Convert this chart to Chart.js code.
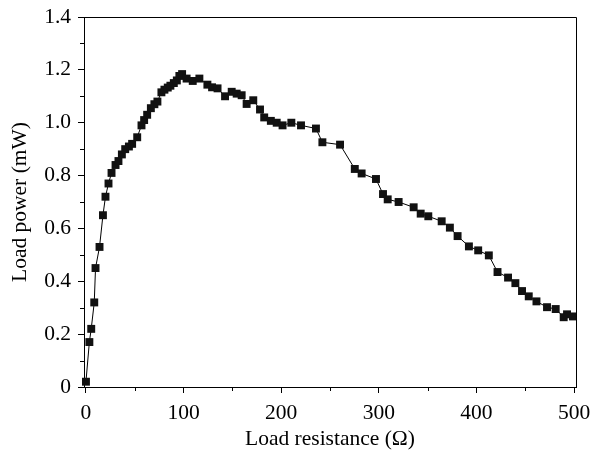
<!DOCTYPE html>
<html>
<head>
<meta charset="utf-8">
<script src="https://cdn.jsdelivr.net/npm/chart.js@4"></script>
<style>
  body { margin: 0; background: #fff; }
  #wrap { width: 593px; height: 460px; }
</style>
</head>
<body>
<div id="wrap"><canvas id="chart" width="593" height="460"></canvas></div>
<script>
const resistance = [0, 3.5, 5.4, 8.5, 9.8, 13.9, 17.4, 20.0, 23.1, 26.2, 30.3, 33.3, 36.8, 40.2, 44.0, 47.3,
  52.5, 56.9, 59.6, 62.7, 66.5, 70.1, 73.2, 77.3, 80.4, 83.8, 86.5, 90.0, 93.1, 95.7, 98.5, 103.1,
  109.4, 116.2, 124.4, 129.2, 134.8, 142.5, 149.3, 154.4, 159.5, 164.6, 171.4, 178.3, 182.6, 189.4,
  195.4, 201.4, 210.4, 220.3, 235.6, 242.2, 260.3, 275.4, 282.4, 297.1, 304.3, 309.1, 320.3, 335.7,
  342.9, 350.7, 364.4, 372.8, 380.7, 392.3, 401.8, 412.7, 421.6, 432.4, 439.9, 446.7, 453.6, 461.5,
  472.3, 481.2, 489.4, 492.8, 498.9];
const power = [0.02, 0.17, 0.22, 0.32, 0.45, 0.53, 0.65, 0.72, 0.77, 0.81, 0.84, 0.855, 0.88, 0.90, 0.91, 0.92,
  0.945, 0.99, 1.01, 1.03, 1.055, 1.07, 1.08, 1.115, 1.125, 1.133, 1.14, 1.15, 1.16, 1.177, 1.184, 1.167,
  1.158, 1.167, 1.144, 1.134, 1.13, 1.10, 1.117, 1.11, 1.104, 1.071, 1.085, 1.05, 1.02, 1.007,
  1.0, 0.99, 1.0, 0.99, 0.978, 0.926, 0.917, 0.825, 0.808, 0.787, 0.73, 0.71, 0.70, 0.68,
  0.656, 0.646, 0.627, 0.603, 0.571, 0.532, 0.517, 0.498, 0.435, 0.414, 0.393, 0.363, 0.343, 0.324,
  0.302, 0.295, 0.264, 0.275, 0.267];

const xTicks = [0, 100, 200, 300, 400, 500];
const xMinorTicks = [50, 150, 250, 350, 450];
const yTicks = [0, 0.2, 0.4, 0.6, 0.8, 1.0, 1.2, 1.4];
const yMinorTicks = [0.1, 0.3, 0.5, 0.7, 0.9, 1.1, 1.3];

const FONT = { family: '"Liberation Serif", "Times New Roman", serif', size: 21.5 };

// top/right frame lines and the short minor ticks
const framePlugin = {
  id: 'frame',
  afterDraw(chart) {
    const { ctx, chartArea: a, scales } = chart;
    ctx.save();
    ctx.strokeStyle = '#000';
    ctx.lineWidth = 1;
    ctx.beginPath();
    ctx.moveTo(a.left, a.top + 0.5);
    ctx.lineTo(a.right + 0.5, a.top + 0.5);
    ctx.lineTo(a.right + 0.5, a.bottom);
    xMinorTicks.forEach(v => {
      const px = Math.round(scales.x.getPixelForValue(v)) + 0.5;
      ctx.moveTo(px, a.bottom);
      ctx.lineTo(px, a.bottom + 4);
    });
    yMinorTicks.forEach(v => {
      const py = Math.round(scales.y.getPixelForValue(v)) + 0.5;
      ctx.moveTo(a.left, py);
      ctx.lineTo(a.left - 4, py);
    });
    ctx.stroke();
    ctx.restore();
  }
};

new Chart(document.getElementById('chart'), {
  type: 'line',
  data: {
    datasets: [{
      data: resistance.map((r, i) => ({ x: r, y: power[i] })),
      borderColor: '#000',
      borderWidth: 1,
      pointStyle: 'rect',
      pointRadius: 5.6,
      pointBackgroundColor: '#111',
      pointBorderColor: '#111',
      pointBorderWidth: 0,
      tension: 0,
      clip: false
    }]
  },
  options: {
    responsive: false,
    animation: false,
    layout: { padding: { left: 0, right: 17, top: 17, bottom: 0 } },
    plugins: { legend: { display: false }, tooltip: { enabled: false } },
    scales: {
      x: {
        type: 'linear',
        min: -2, max: 502,
        afterBuildTicks: s => { s.ticks = xTicks.map(v => ({ value: v })); },
        afterFit: s => { s.height = 73; s.paddingLeft = 0; s.paddingRight = 0; },
        border: { display: true, color: '#000', width: 1 },
        grid: { display: true, drawOnChartArea: false, drawTicks: true, tickLength: 6, color: '#000' },
        ticks: { font: FONT, color: '#000', padding: 7, maxRotation: 0, autoSkip: false, callback: v => String(v) },
        title: { display: true, text: 'Load resistance (Ω)', font: FONT, color: '#000', padding: { top: 0, bottom: 8 } }
      },
      y: {
        min: 0, max: 1.4,
        afterBuildTicks: s => { s.ticks = yTicks.map(v => ({ value: v })); },
        afterFit: s => { s.width = 84; s.paddingTop = 0; s.paddingBottom = 0; },
        border: { display: true, color: '#000', width: 1 },
        grid: { display: true, drawOnChartArea: false, drawTicks: true, tickLength: 6, color: '#000' },
        ticks: { font: FONT, color: '#000', padding: 7, autoSkip: false, callback: v => v === 0 ? '0' : v.toFixed(1) },
        title: { display: true, text: 'Load power (mW)', font: FONT, color: '#000', padding: { top: 7, bottom: 0 } }
      }
    }
  },
  plugins: [framePlugin]
});
</script>
</body>
</html>
